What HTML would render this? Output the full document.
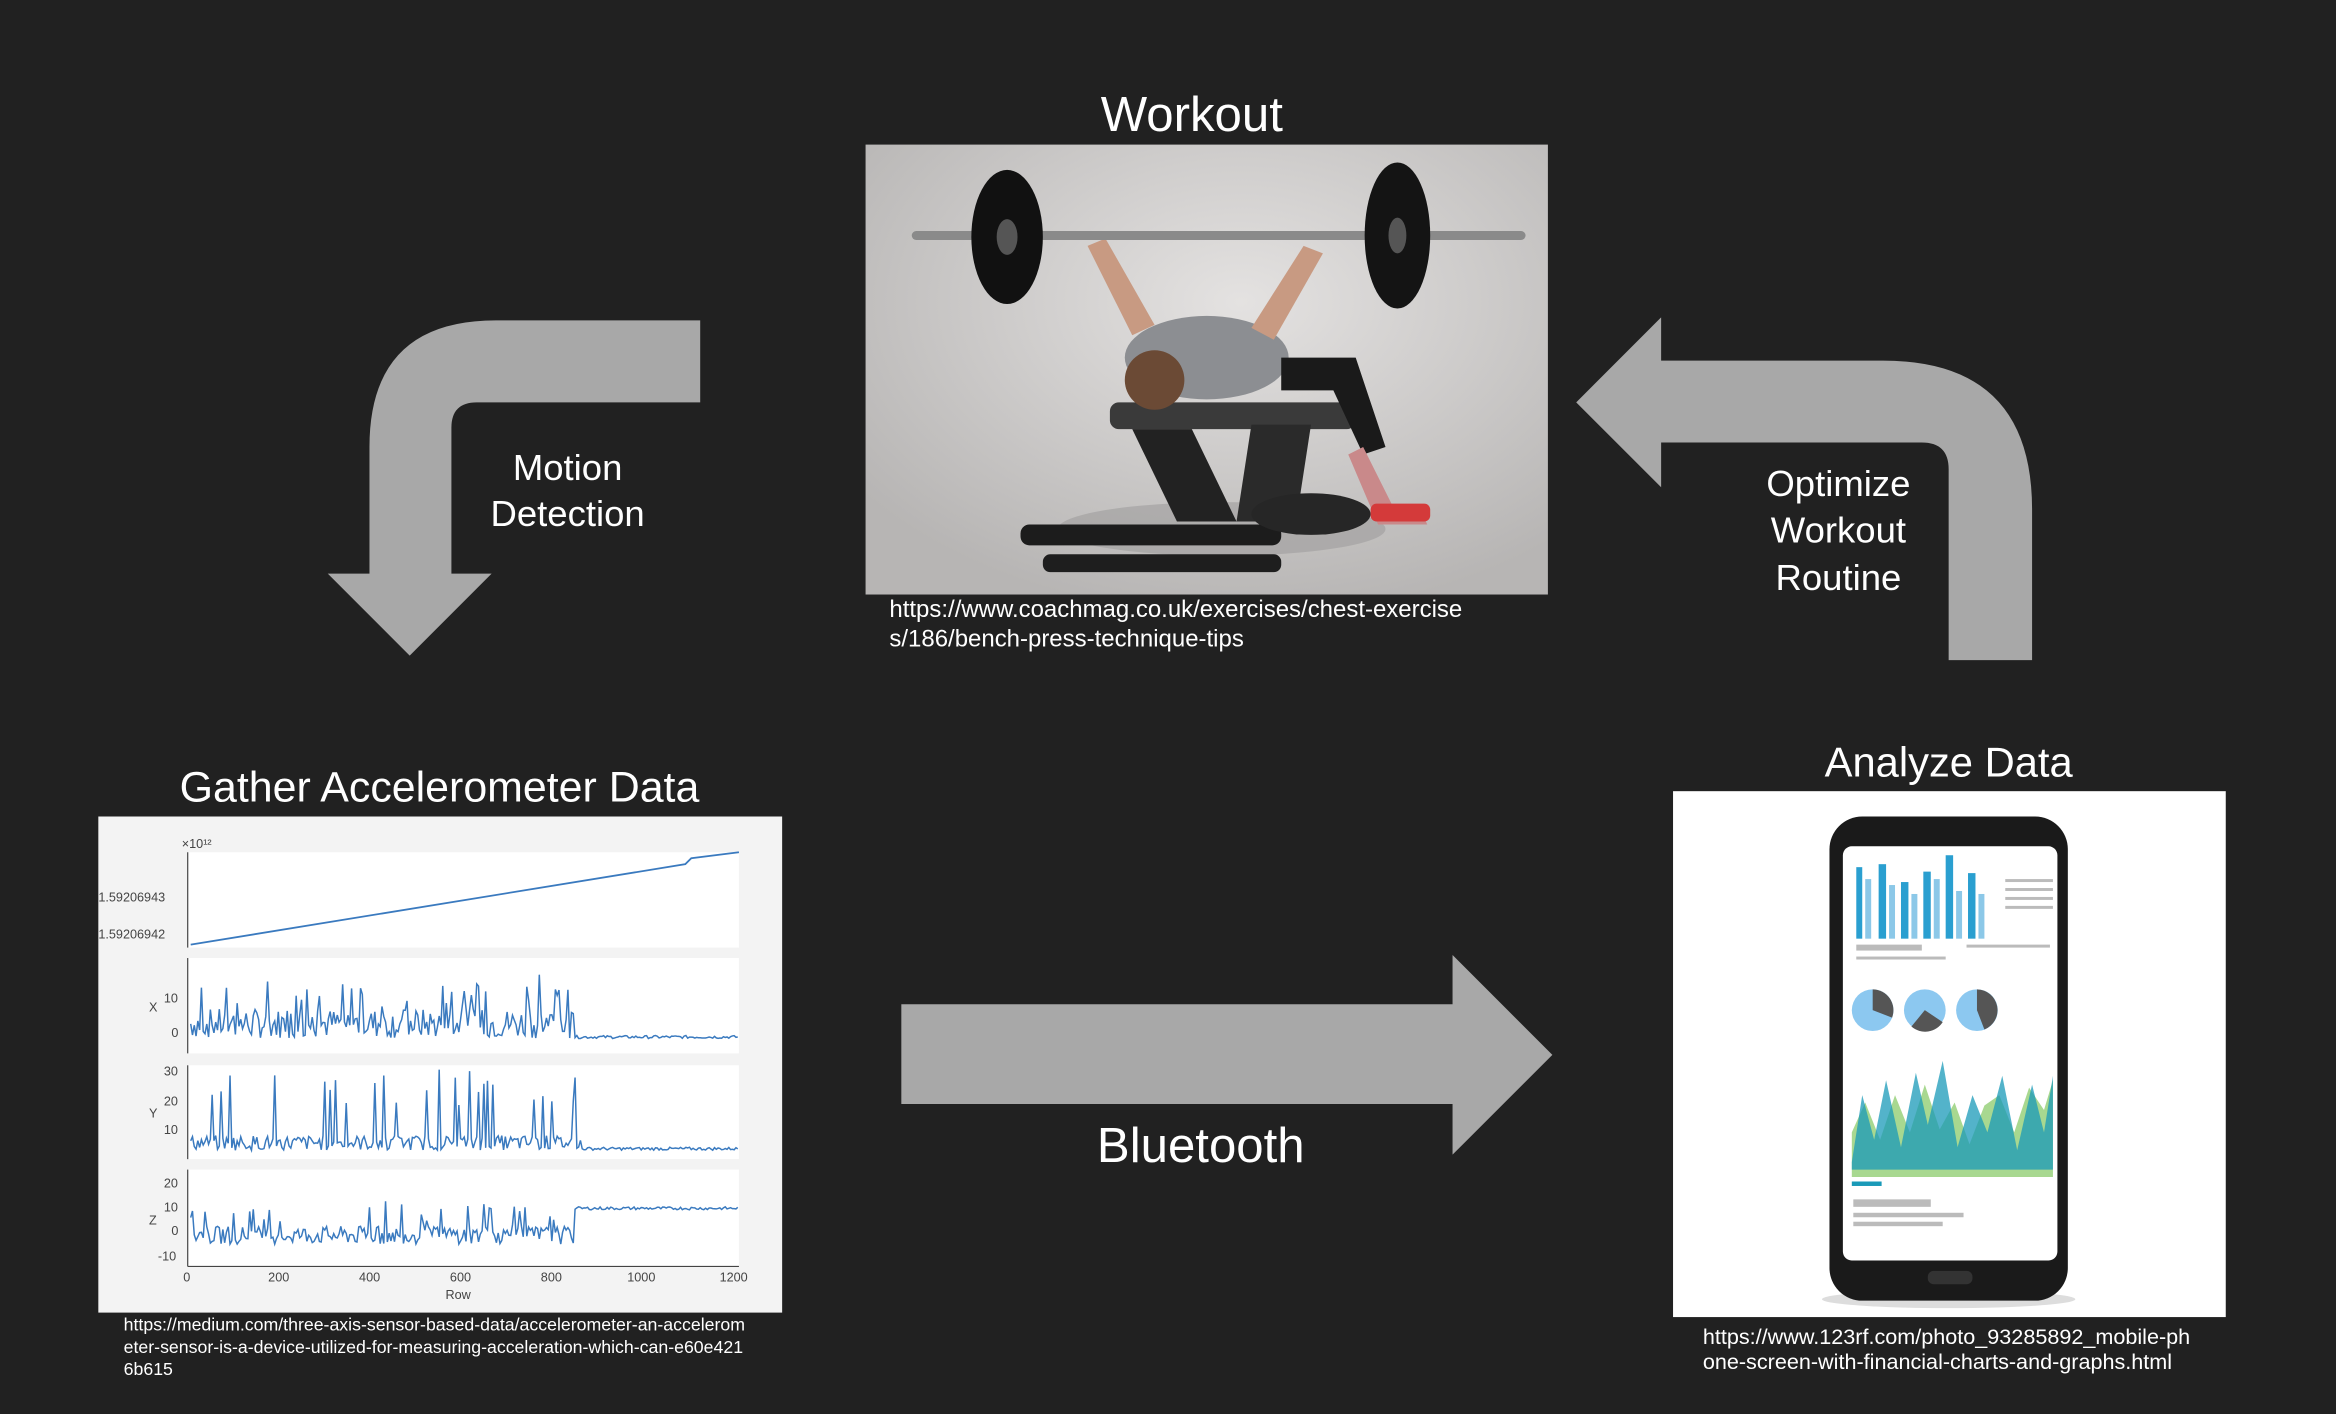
<!DOCTYPE html>
<html><head><meta charset="utf-8"><style>
html,body{margin:0;padding:0;background:#212121;}
svg{display:block}
text{font-family:"Liberation Sans",Arial,sans-serif;}
</style></head><body>
<svg id="s" width="2336" height="1414" viewBox="0 0 1568 949" xmlns="http://www.w3.org/2000/svg">
<rect width="1568" height="949" fill="#212121"/>
<defs>
<radialGradient id="wr" cx="0.55" cy="0.35" r="0.7"><stop offset="0" stop-color="#e4e2e1"/><stop offset="1" stop-color="#b7b5b4"/></radialGradient>
</defs>

<text x="800" y="88" font-size="33" fill="#fff" text-anchor="middle">Workout</text>
<text x="295" y="538" font-size="28.8" fill="#fff" text-anchor="middle">Gather Accelerometer Data</text>
<text x="1308" y="521" font-size="28" fill="#fff" text-anchor="middle">Analyze Data</text>

<rect x="581" y="97" width="458" height="302" fill="url(#wr)"/>
<ellipse cx="820" cy="355" rx="110" ry="18" fill="#9f9d9c" opacity="0.6"/>
<rect x="745" y="270" width="165" height="18" rx="6" fill="#3a3a3a"/>
<polygon points="760,288 800,288 830,350 790,350" fill="#222"/>
<polygon points="840,285 880,285 870,350 830,350" fill="#2a2a2a"/>
<rect x="685" y="352" width="175" height="14" rx="6" fill="#1c1c1c"/>
<rect x="700" y="372" width="160" height="12" rx="5" fill="#1e1e1e"/>
<ellipse cx="880" cy="345" rx="40" ry="14" fill="#262626"/>
<ellipse cx="810" cy="240" rx="55" ry="28" fill="#8c8e92"/>
<circle cx="775" cy="255" r="20" fill="#6b4a35"/>
<path d="M860,240 L910,240 L930,300 L915,305 L895,262 L860,262 Z" fill="#1a1a1a"/>
<path d="M915,300 L935,340 L955,345 L958,352 L925,352 L905,305Z" fill="#c9898a"/>
<rect x="920" y="338" width="40" height="12" rx="4" fill="#d43a3a"/>
<path d="M760,225 L730,165 L742,160 L775,218Z" fill="#c89a82"/>
<path d="M840,220 L875,165 L888,170 L855,228Z" fill="#c89a82"/>
<rect x="612" y="155" width="412" height="6" rx="3" fill="#8a8a8a"/>
<ellipse cx="676" cy="159" rx="24" ry="45" fill="#111"/>
<ellipse cx="676" cy="159" rx="7" ry="12" fill="#555"/>
<ellipse cx="938" cy="158" rx="22" ry="49" fill="#141414"/>
<ellipse cx="938" cy="158" rx="6" ry="12" fill="#555"/>
<text x="597" y="414" font-size="16.1" fill="#fff">https://www.coachmag.co.uk/exercises/chest-exercise</text>
<text x="597" y="434" font-size="16.1" fill="#fff">s/186/bench-press-technique-tips</text>

<path d="M470,215 L470,270 L320,270 Q303,270 303,287 L303,385 L330,385 L275,440 L220,385 L248,385 L248,300 Q248,215 333,215 Z" fill="#a8a8a8"/>
<text x="381" y="322" font-size="24.5" fill="#fff" text-anchor="middle">Motion</text>
<text x="381" y="353" font-size="24.5" fill="#fff" text-anchor="middle">Detection</text>

<path d="M1115,213 L1115,242 L1264,242 Q1364,242 1364,342 L1364,443 L1308,443 L1308,315 Q1308,297 1290,297 L1115,297 L1115,327 L1058,270 Z" fill="#a8a8a8"/>
<text x="1234" y="333" font-size="24.5" fill="#fff" text-anchor="middle">Optimize</text>
<text x="1234" y="364" font-size="24.5" fill="#fff" text-anchor="middle">Workout</text>
<text x="1234" y="396" font-size="24.5" fill="#fff" text-anchor="middle">Routine</text>

<path d="M605,674 L975,674 L975,641 L1042,708 L975,775 L975,741 L605,741 Z" fill="#a8a8a8"/>
<text x="806" y="780" font-size="33" fill="#fff" text-anchor="middle">Bluetooth</text>

<rect x="66" y="548" width="459" height="333" fill="#f3f3f3"/>
<rect x="126" y="572" width="370" height="64" fill="#fff"/>
<rect x="126" y="643" width="370" height="64" fill="#fff"/>
<rect x="126" y="715" width="370" height="63" fill="#fff"/>
<rect x="126" y="785" width="370" height="65" fill="#fff"/>
<g stroke="#444" stroke-width="0.8">
<line x1="126" y1="572" x2="126" y2="636"/><line x1="126" y1="643" x2="126" y2="707"/>
<line x1="126" y1="715" x2="126" y2="778"/><line x1="126" y1="785" x2="126" y2="850"/>
<line x1="126" y1="850" x2="496" y2="850"/>
</g>
<polyline points="128,634 460,580 464,576 496,572" fill="none" stroke="#3a7abf" stroke-width="1.2"/>
<g font-size="8.5" fill="#444">
<text x="122" y="569">×10¹²</text>
<text x="66" y="605">1.59206943</text><text x="66" y="630">1.59206942</text>
<text x="110" y="673">10</text><text x="115" y="696">0</text><text x="100" y="679">X</text>
<text x="110" y="722">30</text><text x="110" y="742">20</text><text x="110" y="761">10</text><text x="100" y="750">Y</text>
<text x="110" y="797">20</text><text x="110" y="813">10</text><text x="115" y="829">0</text><text x="106" y="846">-10</text><text x="100" y="822">Z</text>
<text x="123" y="860">0</text><text x="180" y="860">200</text><text x="241" y="860">400</text><text x="302" y="860">600</text><text x="363" y="860">800</text><text x="421" y="860">1000</text><text x="483" y="860">1200</text>
<text x="299" y="872">Row</text>
</g>
<g id="noise" fill="none" stroke="#3a7abf" stroke-width="1"></g>
<text x="83" y="893" font-size="11.9" fill="#fff">https://medium.com/three-axis-sensor-based-data/accelerometer-an-accelerom</text>
<text x="83" y="908" font-size="11.9" fill="#fff">eter-sensor-is-a-device-utilized-for-measuring-acceleration-which-can-e60e421</text>
<text x="83" y="923" font-size="11.9" fill="#fff">6b615</text>

<rect x="1123" y="531" width="371" height="353" fill="#fff"/>
<ellipse cx="1308" cy="872" rx="85" ry="6" fill="#ddd"/>
<rect x="1228" y="548" width="160" height="325" rx="22" fill="#1a1a1a"/>
<rect x="1237" y="568" width="144" height="278" rx="6" fill="#fff"/>
<rect x="1294" y="853" width="30" height="9" rx="4" fill="#333"/>
<g fill="#2a9fd0">
<rect x="1246" y="582" width="4" height="48"/><rect x="1252" y="590" width="4" height="40" fill="#8cc8e8"/>
<rect x="1261" y="580" width="5" height="50"/><rect x="1268" y="594" width="4" height="36" fill="#8cc8e8"/>
<rect x="1276" y="592" width="5" height="38"/><rect x="1283" y="600" width="4" height="30" fill="#8cc8e8"/>
<rect x="1291" y="585" width="5" height="45"/><rect x="1298" y="590" width="4" height="40" fill="#8cc8e8"/>
<rect x="1306" y="574" width="5" height="56"/><rect x="1313" y="598" width="4" height="32" fill="#8cc8e8"/>
<rect x="1321" y="586" width="5" height="44"/><rect x="1328" y="600" width="4" height="30" fill="#8cc8e8"/>
</g>
<g fill="#bbb"><rect x="1346" y="590" width="32" height="2"/><rect x="1346" y="596" width="32" height="2"/><rect x="1346" y="602" width="32" height="2"/><rect x="1346" y="608" width="32" height="2"/>
<rect x="1246" y="634" width="44" height="4"/><rect x="1246" y="642" width="60" height="2"/><rect x="1320" y="634" width="56" height="2"/>
<rect x="1244" y="805" width="52" height="5"/><rect x="1244" y="814" width="74" height="3"/><rect x="1244" y="820" width="60" height="3"/></g>
<circle cx="1257" cy="678" r="14" fill="#8cc8f0"/><path d="M1257,678 L1257,664 A14,14 0 0 1 1270,683 Z" fill="#555"/>
<circle cx="1292" cy="678" r="14" fill="#8cc8f0"/><path d="M1292,678 L1304,686 A14,14 0 0 1 1283,689 Z" fill="#555"/>
<circle cx="1327" cy="678" r="14" fill="#8cc8f0"/><path d="M1327,678 L1327,664 A14,14 0 0 1 1332,691 Z" fill="#555"/>
<path d="M1243,790 L1243,760 L1252,740 L1262,765 L1272,735 L1282,760 L1292,728 L1302,758 L1312,740 L1322,768 L1332,742 L1342,735 L1352,760 L1362,730 L1372,745 L1378,725 L1378,790 Z" fill="#a8d890"/>
<path d="M1243,780 L1250,735 L1258,765 L1266,725 L1276,770 L1286,720 L1294,755 L1304,712 L1314,770 L1324,735 L1334,760 L1344,722 L1354,772 L1364,728 L1372,760 L1378,722 L1378,785 L1243,785 Z" fill="#1a9ab8" opacity="0.75"/>
<rect x="1243" y="793" width="20" height="3" fill="#1a9ab8"/>
<text x="1143" y="902" font-size="14.5" fill="#fff">https://www.123rf.com/photo_93285892_mobile-ph</text>
<text x="1143" y="919" font-size="14.5" fill="#fff">one-screen-with-financial-charts-and-graphs.html</text>
</svg>
<script>
(function(){
 var g=document.getElementById('noise');var seed=7;function r(){seed=(seed*9301+49297)%233280;return seed/233280;}
 function mk(y0,amp,spike,endY,endX,prob){var p=[];for(var x=128;x<=496;x+=1.2){var y;if(x<endX){y=y0-r()*amp;if(r()<prob)y-=spike*(0.5+0.5*r());}else{y=endY-r()*2;}p.push(x.toFixed(1)+','+y.toFixed(1));}
 var e=document.createElementNS('http://www.w3.org/2000/svg','polyline');e.setAttribute('points',p.join(' '));g.appendChild(e);}
 mk(697,20,28,697,385,0.12);mk(772,10,50,772,390,0.1);mk(835,12,22,812,385,0.1);
})();
</script>
</body></html>
